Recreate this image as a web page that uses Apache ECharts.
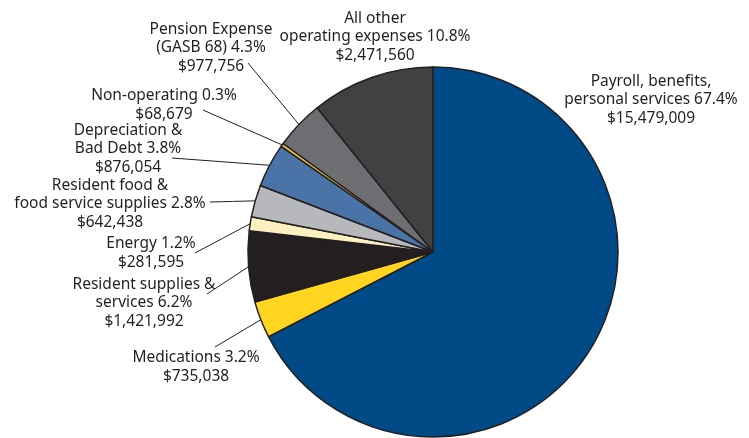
<!DOCTYPE html>
<html>
<head>
<meta charset="utf-8">
<script src="https://cdn.jsdelivr.net/npm/echarts@6/dist/echarts.min.js"></script>
<style>
html,body{margin:0;padding:0;background:#fff;}
#chart{width:749px;height:438px;}
</style>
</head>
<body>
<div id="chart"></div>
<script>
// Data
const categories = [
  'Payroll, benefits,\npersonal services',
  'Medications',
  'Resident supplies &\nservices',
  'Energy',
  'Resident food &\nfood service supplies',
  'Depreciation &\nBad Debt',
  'Non-operating',
  'Pension Expense\n(GASB 68)',
  'All other\noperating expenses'
];
const amounts = [15479009, 735038, 1421992, 281595, 642438, 876054, 68679, 977756, 2471560];
const percents = ['67.4', '3.2', '6.2', '1.2', '2.8', '3.8', '0.3', '4.3', '10.8'];

// Styling / layout (not data)
const colors = ['#004B87', '#FFD520', '#231F20', '#FFF0C0', '#B6B8BB', '#4A74A8', '#E8C040', '#6D6E71', '#414042'];
const labelPos = [
  [651, 100], [196, 367], [144, 303], [151, 253], [110, 204],
  [128, 149], [164, 105], [211, 48], [375, 37]
];
// where each leader line meets its label (null = no leader line)
const lineEnds = [null, [215, 347], [207, 294], [195, 253], [210, 202], [172, 158], [203, 110], [248, 63], null];

function fmt(v) {
  return '$' + v.toLocaleString('en-US');
}

const chart = echarts.init(document.getElementById('chart'), null, { renderer: 'canvas' });
const data = categories.map((c, i) => ({
  name: c,
  value: amounts[i],
  itemStyle: { color: colors[i] },
  labelLine: { show: lineEnds[i] !== null }
}));

chart.setOption({
  animation: false,
  series: [{
    type: 'pie',
    center: [433, 252],
    radius: 185,
    startAngle: 90,
    clockwise: true,
    data: data,
    itemStyle: { borderColor: '#231F20', borderWidth: 1.5 },
    label: {
      show: true,
      position: 'outside',
      overflow: 'none',
      fontFamily: '"Noto Sans", sans-serif',
      fontSize: 15.5,
      lineHeight: 18.5,
      color: '#231F20',
      align: 'center',
      formatter: p => p.name + ' ' + percents[p.dataIndex] + '%\n' + fmt(amounts[p.dataIndex])
    },
    labelLine: {
      show: true,
      length: 10,
      length2: 10,
      smooth: false,
      lineStyle: { color: '#231F20', width: 1 }
    },
    labelLayout: function (params) {
      const i = params.dataIndex;
      const p = labelPos[i];
      const out = { x: p[0], y: p[1], align: 'center', verticalAlign: 'middle' };
      if (lineEnds[i] && params.labelLinePoints) {
        const s = params.labelLinePoints[0];
        const e = lineEnds[i];
        out.labelLinePoints = [[s[0], s[1]], [(s[0] + e[0]) / 2, (s[1] + e[1]) / 2], [e[0], e[1]]];
      }
      return out;
    }
  }]
});
</script>
</body>
</html>
